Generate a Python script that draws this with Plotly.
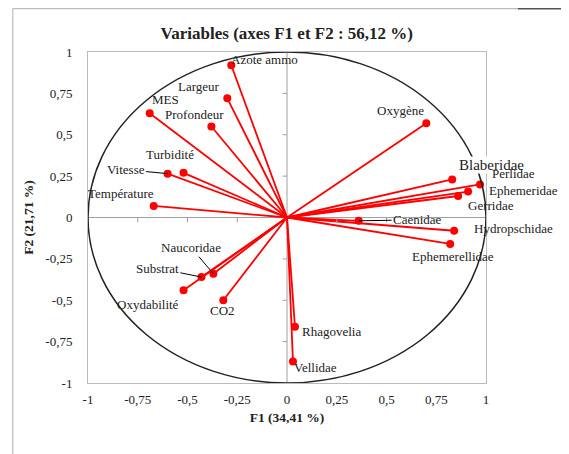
import plotly.graph_objects as go

variables = ["Azote ammo", "Largeur", "MES", "Profondeur", "Turbidité", "Vitesse",
             "Température", "Oxygène", "Blaberidae", "Perlidae", "Ephemeridae",
             "Gerridae", "Caenidae", "Hydropschidae", "Ephemerellidae", "Naucoridae",
             "Substrat", "Oxydabilité", "CO2", "Rhagovelia", "Vellidae"]
f1 = [-0.28, -0.30, -0.69, -0.38, -0.52, -0.60, -0.67, 0.70, 0.83, 0.97, 0.91,
      0.86, 0.36, 0.84, 0.82, -0.37, -0.43, -0.52, -0.32, 0.04, 0.03]
f2 = [0.92, 0.72, 0.63, 0.55, 0.27, 0.265, 0.07, 0.57, 0.23, 0.20, 0.157,
      0.13, -0.02, -0.08, -0.16, -0.34, -0.36, -0.44, -0.50, -0.66, -0.87]

tick_vals = [-1, -0.75, -0.5, -0.25, 0, 0.25, 0.5, 0.75, 1]
tick_text = ["-1", "-0,75", "-0,5", "-0,25", "0", "0,25", "0,5", "0,75", "1"]

# label placement (pixel offsets), leader flags
label_style = {
    "Azote ammo": (33, 6, False),
    "Largeur": (-28, 12, False),
    "MES": (16, 13.5, False),
    "Profondeur": (-17, 11.5, False),
    "Turbidité": (-14, 18, False),
    "Vitesse": (-42, 4, True),
    "Température": (-33, 12, False),
    "Oxygène": (-26, 13, False),
    "Blaberidae": (39, 14, False),
    "Perlidae": (33, 10.5, False),
    "Ephemeridae": (55, 1.5, False),
    "Gerridae": (33, -9.5, False),
    "Caenidae": (59, 1, True),
    "Hydropschidae": (59, 2, False),
    "Ephemerellidae": (3, -13, False),
    "Naucoridae": (-22, 26, True),
    "Substrat": (-44, 9, True),
    "Oxydabilité": (-36, -14, False),
    "CO2": (-1, -10, False),
    "Rhagovelia": (37, -5, False),
    "Vellidae": (23, -6, False),
}

FONT = "Liberation Serif"
fig = go.Figure()

# red vectors from origin
for name, x, y in zip(variables, f1, f2):
    fig.add_trace(go.Scatter(x=[0, x], y=[0, y], mode="lines",
                             line=dict(color="#ff0000", width=1.8),
                             hoverinfo="skip", showlegend=False))
fig.add_trace(go.Scatter(x=f1, y=f2, mode="markers", text=variables,
                         marker=dict(color="#ff0000", size=8),
                         showlegend=False))

# small tick marks on the axes through origin
tx, ty = [], []
for v in tick_vals:
    if v == 0:
        continue
    tx += [v, v, None]
    ty += [0, -0.03, None]
    tx += [-0.022, 0, None]
    ty += [v, v, None]
fig.add_trace(go.Scatter(x=tx, y=ty, mode="lines", line=dict(color="#a0a0a0", width=1),
                         hoverinfo="skip", showlegend=False))

# correlation circle
fig.add_shape(type="circle", x0=-1, x1=1, y0=-1, y1=1,
              line=dict(color="#222222", width=1.5), layer="above")
# axes through origin
fig.add_shape(type="line", x0=0, x1=0, y0=-1, y1=1, line=dict(color="#a0a0a0", width=1), layer="below")
fig.add_shape(type="line", x0=-1, x1=1, y0=0, y1=0, line=dict(color="#a0a0a0", width=1), layer="below")

# outer chart frame (left and top)
fig.add_shape(type="line", xref="paper", yref="paper", x0=-0.189, x1=-0.189, y0=-0.3, y1=1.131,
              line=dict(color="#bbbbbb", width=1.2))
fig.add_shape(type="line", xref="paper", yref="paper", x0=-0.189, x1=1.08, y0=1.131, y1=1.131,
              line=dict(color="#bbbbbb", width=1.2))
fig.add_shape(type="line", xref="paper", yref="paper", x0=1.08, x1=1.3, y0=1.131, y1=1.131,
              line=dict(color="#555555", width=1.5))

for name, x, y in zip(variables, f1, f2):
    dx, dy, leader = label_style[name]
    size = 15 if name == "Blaberidae" else 13
    if leader:
        fig.add_annotation(x=x, y=y, text=name, showarrow=True, arrowhead=0,
                           arrowwidth=1, arrowcolor="#000000", ax=dx, ay=-dy,
                           font=dict(family=FONT, size=size, color="#222222"))
    else:
        fig.add_annotation(x=x, y=y, text=name, showarrow=False, xshift=dx, yshift=dy,
                           bgcolor="white" if name == "Blaberidae" else None,
                           borderpad=0,
                           font=dict(family=FONT, size=size, color="#222222"))

fig.update_layout(
    width=569, height=454,
    margin=dict(l=80, r=91, t=44, b=79),
    paper_bgcolor="white", plot_bgcolor="white",
    font=dict(family=FONT, size=13, color="#222222"),
    title=dict(text="<b>Variables (axes F1 et F2 : 56,12 %)</b>", x=0.49, xanchor="center",
               y=0.945, yanchor="middle", font=dict(family=FONT, size=17, color="#222222")),
    xaxis=dict(range=[-1, 1], tickvals=tick_vals, ticktext=tick_text, showgrid=False,
               zeroline=False, showline=True, mirror=True, linecolor="#bbbbbb", linewidth=1,
               ticks="", tickfont=dict(family=FONT, size=13), ticklabelstandoff=4,
               title=dict(text="<b>F1 (34,41 %)</b>", font=dict(family=FONT, size=13.5), standoff=6)),
    yaxis=dict(range=[-1, 1], tickvals=tick_vals, ticktext=tick_text, showgrid=False,
               zeroline=False, showline=True, mirror=True, linecolor="#bbbbbb", linewidth=1,
               ticks="", tickfont=dict(family=FONT, size=13), ticklabelstandoff=12,
               title=dict(text="<b>F2 (21,71 %)</b>", font=dict(family=FONT, size=13.5), standoff=8)),
)

fig.write_html("out.html")
